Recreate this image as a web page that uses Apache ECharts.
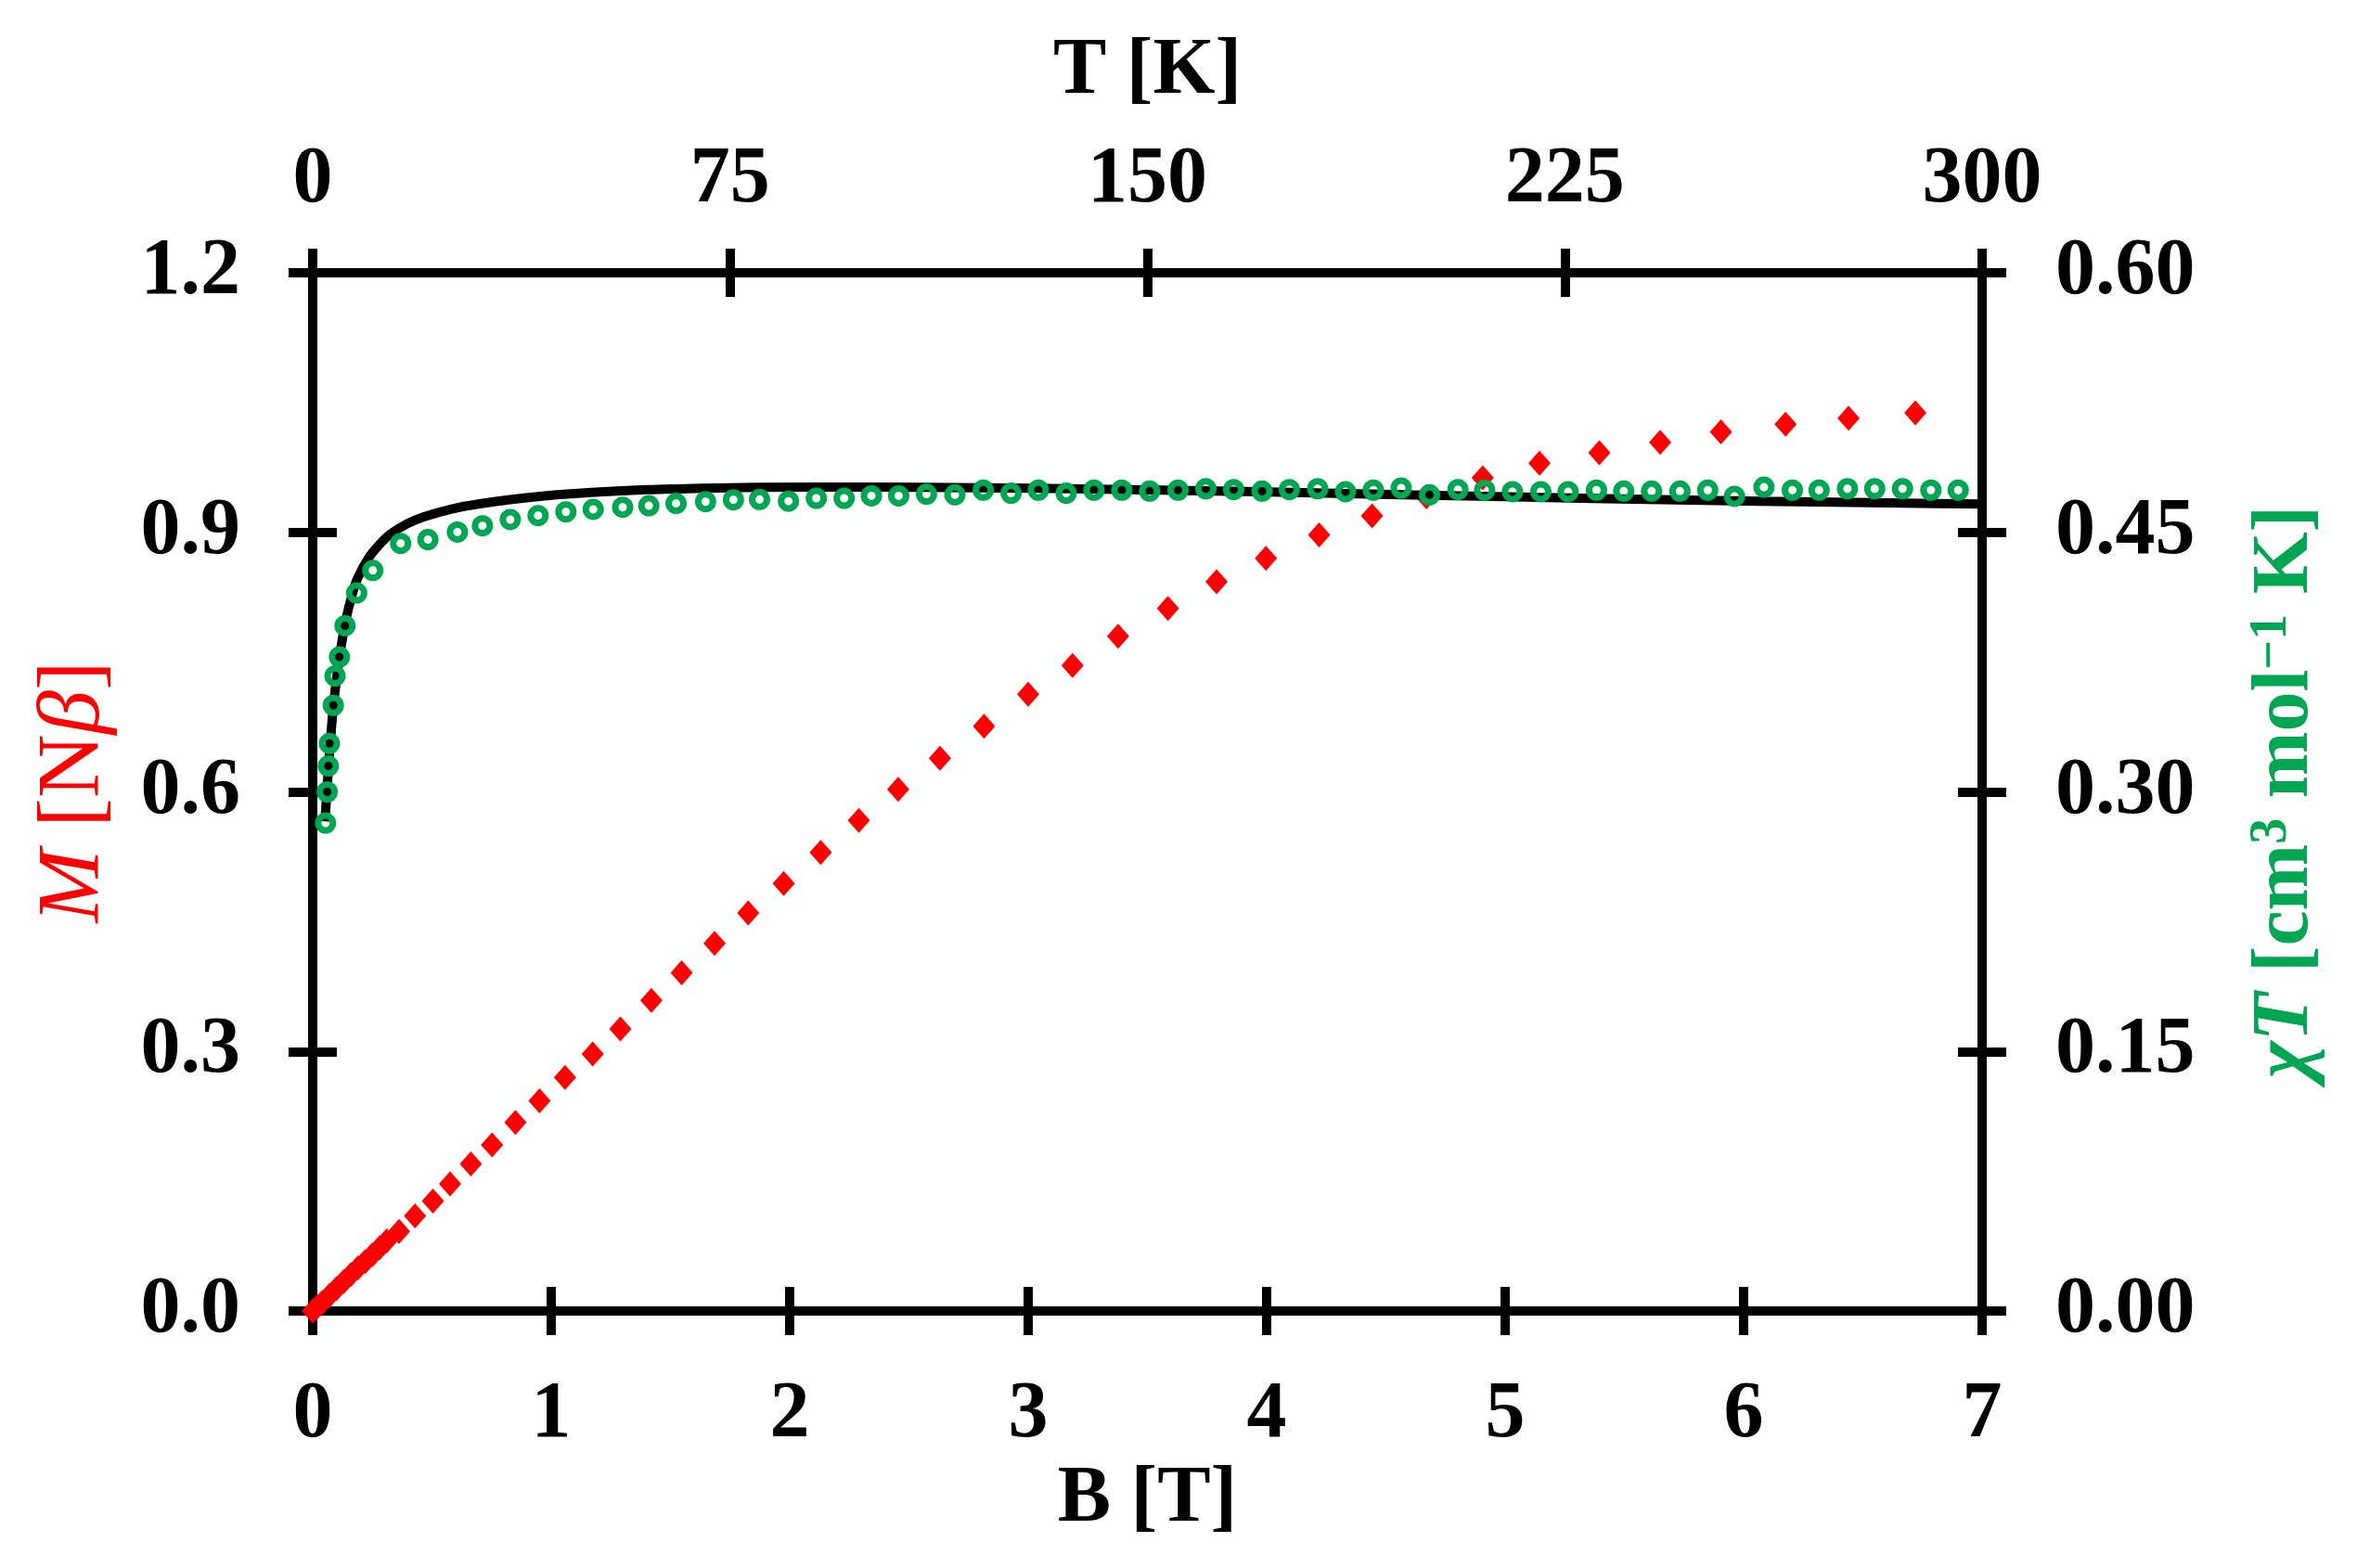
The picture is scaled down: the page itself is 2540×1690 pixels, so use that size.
<!DOCTYPE html>
<html>
<head>
<meta charset="utf-8" />
<title>M(B) and chiT(T)</title>
<script src="https://cdn.jsdelivr.net/npm/echarts@6/dist/echarts.min.js"></script>
<style>
  html, body { margin: 0; padding: 0; background: #fff; }
  #main { width: 2540px; height: 1690px; }
</style>
</head>
<body>
<div id="main"></div>
<script>
// magnetisation vs field (bottom / left axes)
var bField = [0, 0.02, 0.04, 0.07, 0.10, 0.13, 0.16, 0.19, 0.22, 0.25, 0.28, 0.31,
  0.362, 0.429, 0.504, 0.576, 0.663, 0.752, 0.850, 0.951, 1.058, 1.174, 1.29, 1.42,
  1.547, 1.685, 1.826, 1.975, 2.13, 2.29, 2.455, 2.63, 2.815, 3.00, 3.186, 3.377,
  3.586, 3.79, 3.997, 4.22, 4.442, 4.67, 4.906, 5.144, 5.395, 5.65, 5.905, 6.176,
  6.44, 6.72];
var mMag = [0.000, 0.005, 0.010, 0.018, 0.026, 0.034, 0.042, 0.050, 0.057, 0.065, 0.073, 0.081,
  0.092, 0.110, 0.127, 0.147, 0.170, 0.192, 0.218, 0.243, 0.270, 0.297, 0.326, 0.359,
  0.391, 0.425, 0.460, 0.494, 0.530, 0.567, 0.603, 0.639, 0.676, 0.713, 0.746, 0.780,
  0.812, 0.843, 0.870, 0.897, 0.919, 0.941, 0.963, 0.980, 0.992, 1.004, 1.016, 1.025,
  1.032, 1.038];

// chiT vs temperature, measured (top / right axes)
var tempChi = [2.3, 2.6, 2.8, 3.0, 3.7, 4.0, 4.8, 5.8, 7.9, 10.8,
  15.8, 20.7, 26.0, 30.5, 35.5, 40.5, 45.5, 50.4, 55.7, 60.4, 65.3, 70.6, 75.6, 80.3,
  85.5, 90.5, 95.5, 100.4, 105.3, 110.3, 115.4, 120.5, 125.5, 130.4, 135.4, 140.4,
  145.4, 150.4, 155.5, 160.5, 165.5, 170.6, 175.5, 180.6, 185.6, 190.6, 195.6, 200.7,
  205.8, 210.6, 215.6, 220.7, 225.6, 230.7, 235.6, 240.6, 245.7, 250.7, 255.5, 260.8,
  265.9, 270.7, 275.8, 280.7, 285.7, 290.8, 295.7];
var chiT = [0.282, 0.300, 0.315, 0.328, 0.350, 0.367, 0.378, 0.396, 0.415, 0.428,
  0.4436, 0.4458, 0.4502, 0.4538, 0.4574, 0.4597, 0.4618, 0.4633, 0.4645, 0.4654, 0.4667, 0.4677, 0.4688, 0.4690,
  0.4680, 0.4697, 0.4697, 0.4711, 0.4711, 0.4721, 0.4717, 0.4744, 0.4726, 0.4744, 0.4726, 0.4744,
  0.4744, 0.4738, 0.4744, 0.4752, 0.4747, 0.4738, 0.4747, 0.4752, 0.4735, 0.4744, 0.4756, 0.4717,
  0.4747, 0.4744, 0.4735, 0.4735, 0.4735, 0.4744, 0.4738, 0.4738, 0.4738, 0.4744, 0.4708, 0.4761,
  0.4744, 0.4744, 0.4752, 0.4752, 0.4752, 0.4744, 0.4744];

// fitted curve
var tempFit = [2.2, 2.5, 3.0, 3.5, 4.0, 5.0, 6.0, 7.0, 8.0, 10, 12, 14, 17, 20, 25, 30,
  40, 50, 60, 70, 80, 100, 120, 140, 160, 180, 200, 220, 240, 260, 280, 300];
var chiFit = [0.283, 0.298, 0.322, 0.342, 0.358, 0.382, 0.400, 0.413, 0.423, 0.435, 0.443, 0.449,
  0.455, 0.459, 0.4635, 0.4665, 0.4705, 0.4730, 0.4746, 0.4755, 0.4760, 0.4762, 0.4758, 0.4750,
  0.4740, 0.4728, 0.4715, 0.4702, 0.4690, 0.4680, 0.4671, 0.4664];

var fontFam = '"Liberation Serif", "Times New Roman", serif';
var red = '#ff0000';
var green = '#00a651';

function zip(a, b) {
  var out = [];
  for (var i = 0; i < a.length; i++) out.push([a[i], b[i]]);
  return out;
}

var lineSt = { color: '#000', width: 10 };
var lbl = { fontFamily: fontFam, fontSize: 86, fontWeight: 'bold', color: '#000' };
var nameSt = { fontFamily: fontFam, fontSize: 86, fontWeight: 'bold', color: '#000' };

function mainAxis(extra) {
  var ax = {
    type: 'value',
    axisLine: { show: true, onZero: false, lineStyle: lineSt },
    axisTick: { show: true, inside: false, length: 26, lineStyle: lineSt },
    splitLine: { show: false }
  };
  return Object.assign(ax, extra);
}
// second copy of an axis, only to draw the inner half of the crossing ticks
function innerAxis(extra) {
  var ax = {
    type: 'value',
    axisLine: { show: false, onZero: false },
    axisTick: { show: true, inside: true, length: 26, lineStyle: lineSt },
    axisLabel: { show: false },
    splitLine: { show: false }
  };
  return Object.assign(ax, extra);
}

var myChart = echarts.init(document.getElementById('main'));
var option = {
  animation: false,
  backgroundColor: '#fff',
  grid: { left: 337, right: 404, top: 294, bottom: 277, containLabel: false },
  xAxis: [
    mainAxis({ position: 'bottom', min: 0, max: 7, interval: 1,
      axisLabel: Object.assign({ margin: 70 }, lbl),
      name: 'B [T]', nameLocation: 'middle', nameGap: 156, nameTextStyle: nameSt }),
    mainAxis({ position: 'top', min: 0, max: 300, interval: 75,
      axisLabel: Object.assign({ margin: 56 }, lbl),
      name: 'T [K]', nameLocation: 'middle', nameGap: 173, nameTextStyle: nameSt }),
    innerAxis({ position: 'bottom', min: 0, max: 7, interval: 1 }),
    innerAxis({ position: 'top', min: 0, max: 300, interval: 75 })
  ],
  yAxis: [
    mainAxis({ position: 'left', min: 0, max: 1.2, interval: 0.3,
      axisLabel: Object.assign({ margin: 78, formatter: function (v) { return v.toFixed(1); } }, lbl),
      name: '{i|M} {n|[N}{i|β}{n|]}', nameLocation: 'middle', nameRotate: 90, nameGap: 208,
      nameTextStyle: {
        fontFamily: fontFam, fontSize: 95, color: red,
        rich: {
          i: { fontFamily: fontFam, fontSize: 95, fontStyle: 'italic', color: red },
          n: { fontFamily: fontFam, fontSize: 95, color: red }
        }
      } }),
    mainAxis({ position: 'right', min: 0, max: 0.6, interval: 0.15,
      axisLabel: Object.assign({ margin: 79, formatter: function (v) { return v.toFixed(2); } }, lbl),
      name: '{i|χT} {b|[cm}{s|3}{b| mol}{s|−1}{b| K]}', nameLocation: 'middle', nameRotate: 90, nameGap: 285,
      nameTextStyle: {
        fontFamily: fontFam, fontSize: 86, fontWeight: 'bold', color: green,
        rich: {
          i: { fontFamily: fontFam, fontSize: 86, fontWeight: 'bold', fontStyle: 'italic', color: green },
          b: { fontFamily: fontFam, fontSize: 86, fontWeight: 'bold', color: green },
          s: { fontFamily: fontFam, fontSize: 56, fontWeight: 'bold', color: green, verticalAlign: 'top' }
        }
      } }),
    innerAxis({ position: 'left', min: 0, max: 1.2, interval: 0.3 }),
    innerAxis({ position: 'right', min: 0, max: 0.6, interval: 0.15 })
  ],
  series: [
    {
      name: 'M',
      type: 'scatter',
      xAxisIndex: 0, yAxisIndex: 0,
      symbol: 'diamond',
      symbolSize: [24, 27],
      itemStyle: { color: red, opacity: 1 },
      data: zip(bField, mMag),
      z: 2
    },
    {
      name: 'fit',
      type: 'line',
      xAxisIndex: 1, yAxisIndex: 1,
      smooth: 0.3,
      showSymbol: false,
      lineStyle: { color: '#000', width: 10 },
      data: zip(tempFit, chiFit),
      z: 3
    },
    {
      name: 'chiT',
      type: 'scatter',
      xAxisIndex: 1, yAxisIndex: 1,
      symbol: 'circle',
      symbolSize: 16,
      itemStyle: { color: 'rgba(0,0,0,0)', borderColor: green, borderWidth: 7, opacity: 1 },
      data: zip(tempChi, chiT),
      z: 4
    }
  ]
};
myChart.setOption(option);
</script>
</body>
</html>
